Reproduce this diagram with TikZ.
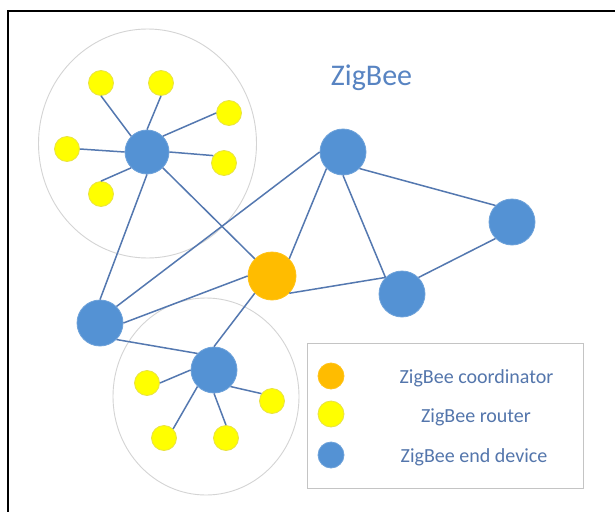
\documentclass[tikz,border=0pt]{standalone}
\usepackage{fontspec}
\setmainfont{Carlito}
\usetikzlibrary{shapes.geometric}
\definecolor{nodeblue}{RGB}{84,146,212}
\definecolor{linkblue}{RGB}{84,120,176}
\definecolor{coordorange}{RGB}{255,188,0}
\definecolor{routeryellow}{RGB}{255,255,0}
\definecolor{yellowedge}{RGB}{232,226,70}
\definecolor{labelblue}{RGB}{88,132,194}
\definecolor{legendtext}{RGB}{84,118,172}
\definecolor{clustergray}{RGB}{212,212,212}
\definecolor{legendgray}{RGB}{196,196,196}
\begin{document}
\begin{tikzpicture}[x=1pt,y=-1pt,
  enddev/.style={circle,inner sep=0pt,minimum size=46pt,fill=nodeblue,draw=nodeblue!85!white,line width=0.8pt},
  coord/.style={circle,inner sep=0pt,minimum size=48pt,fill=coordorange,draw=coordorange!90!white,line width=0.8pt},
  router/.style={circle,inner sep=0pt,minimum size=25pt,fill=routeryellow,draw=yellowedge,line width=0.8pt},
  cluster/.style={ellipse,draw=clustergray,fill=white,line width=0.9pt,inner sep=0pt},
  link/.style={draw=linkblue,line width=1.5pt},
  legendbox/.style={rectangle,draw=legendgray,fill=white,line width=0.9pt,inner sep=0pt},
  legtext/.style={anchor=base,text=legendtext,font=\fontsize{20}{24}\selectfont},
]
\useasboundingbox (0,0) rectangle (615,511);
\fill[white] (0,0) rectangle (615,511);

% frame (only top and left edges visible)
\coordinate (fbl) at (8,512);
\coordinate (ftl) at (8,11);
\coordinate (ftr) at (616,11);
\draw[line width=2pt,black] (fbl) -- (ftl) -- (ftr);

% clusters
\node[cluster,minimum width=218pt,minimum height=229pt] (cl1) at (147.5,143.5) {};
\node[cluster,minimum width=186pt,minimum height=197pt] (cl2) at (206,396.5) {};

% title
\node[anchor=base,text=labelblue,font=\fontsize{30}{36}\selectfont] (title) at (371.5,85) {ZigBee};

% main nodes
\node[enddev,minimum size=44pt] (H1) at (147,152) {};
\node[enddev] (Btop) at (343,152) {};
\node[enddev] (Bright) at (512,222) {};
\node[enddev] (Bmr) at (402,294) {};
\node[coord] (C) at (272,276) {};
\node[enddev] (Bleft) at (100,323) {};
\node[enddev] (H2) at (214,370) {};

% routers cluster 1
\node[router] (Y1) at (101,83) {};
\node[router] (Y2) at (161,83) {};
\node[router] (Y3) at (229,113) {};
\node[router] (Y4) at (67,149) {};
\node[router] (Y5) at (224,163) {};
\node[router] (Y6) at (101,194) {};
% routers cluster 2
\node[router] (Y7) at (147,383) {};
\node[router] (Y8) at (272,401) {};
\node[router] (Y9) at (164,438) {};
\node[router] (Y10) at (226,438) {};

% links
\path[link] (Btop.-90) -- (Bmr.135);
\path[link] (C.-45) -- (Bmr.135);
\path[link] (Btop.-135) -- (C.45);
\path[link] (Bleft.45) -- (Btop.180);
\path[link] (Bleft.0) -- (C.180);
\path[link] (Bleft.90) -- (H1.-90);
\path[link] (Bleft.-45) -- (H2.135);
\path[link] (C.-135) -- (H2.90);
\path[link] (H1.-45) -- (C.135);
\path[link] (Btop.-45) -- (Bright.135);
\path[link] (Bright.-135) -- (Bmr.45);
\path[link] (Y1.-90) -- (H1.135);
\path[link] (Y2.-90) -- (H1.90);
\path[link] (Y3.180) -- (H1.45);
\path[link] (Y4.0) -- (H1.180);
\path[link] (Y5.145) -- (H1.0);
\path[link] (Y6.90) -- (H1.-135);
\path[link] (Y7.0) -- (H2.180);
\path[link] (Y8.145) -- (H2.-45);
\path[link] (Y9.45) -- (H2.-135);
\path[link] (Y10.90) -- (H2.-90);

% legend
\node[legendbox,minimum width=276pt,minimum height=145pt] (legend) at (445,415.5) {};
\node[coord,minimum size=26pt] (Lc) at (331,376) {};
\node[router,minimum size=26pt] (Lr) at (331,414) {};
\node[enddev,minimum size=26pt] (Le) at (331,455) {};
\node[legtext] (Tc) at (476.5,383) {ZigBee coordinator};
\node[legtext] (Tr) at (476,422) {ZigBee router};
\node[legtext] (Te) at (474,462) {ZigBee end device};
\end{tikzpicture}
\end{document}
